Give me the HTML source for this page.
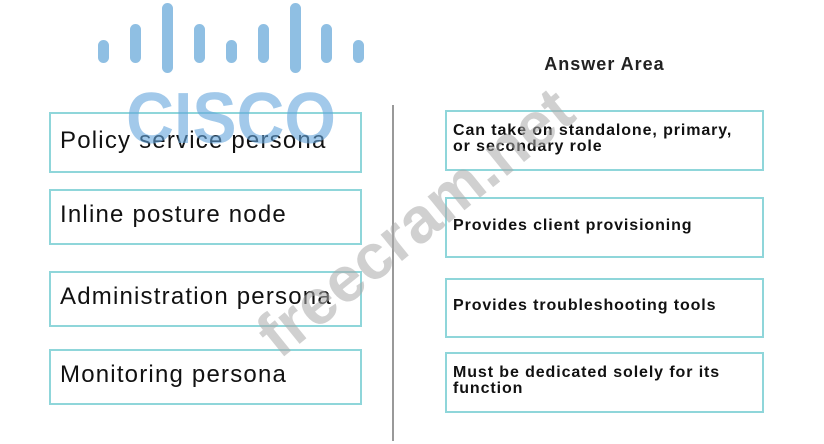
<!DOCTYPE html>
<html><head><style>
body{margin:0;width:824px;height:444px;background:#fff;position:relative;overflow:hidden;font-family:"Liberation Sans",sans-serif}
.b{position:absolute;border:2px solid #8fd6da;box-sizing:border-box}
.l{left:49px;width:313px;font-size:24px;letter-spacing:1.2px;color:#111;padding-left:9px;display:flex;align-items:center;padding-bottom:4px}
.r{left:445px;width:319px;font-size:16px;letter-spacing:0.9px;font-weight:bold;color:#111;padding-left:6px;line-height:16px;display:flex;align-items:center;padding-bottom:4px}
.bar{position:absolute;width:11px;border-radius:6px;background:#8fbfe3}
</style></head><body>
<div class="bar" style="left:98px;top:40px;height:23px"></div>
<div class="bar" style="left:130px;top:24px;height:39px"></div>
<div class="bar" style="left:162px;top:3px;height:70px"></div>
<div class="bar" style="left:194px;top:24px;height:39px"></div>
<div class="bar" style="left:226px;top:40px;height:23px"></div>
<div class="bar" style="left:258px;top:24px;height:39px"></div>
<div class="bar" style="left:290px;top:3px;height:70px"></div>
<div class="bar" style="left:321px;top:24px;height:39px"></div>
<div class="bar" style="left:353px;top:40px;height:23px"></div>

<div class="b l" style="top:112px;height:61px">Policy service persona</div>
<div class="b l" style="top:189px;height:56px">Inline posture node</div>
<div class="b l" style="top:271px;height:56px">Administration persona</div>
<div class="b l" style="top:349px;height:56px">Monitoring persona</div>

<div style="position:absolute;left:111px;top:83px;width:240px;text-align:center;font-size:72px;font-weight:bold;color:rgba(100,165,220,0.6);line-height:72px;transform:scaleX(0.92)">CISCO</div>

<div style="position:absolute;left:392px;top:105px;width:2px;height:336px;background:#999"></div>
<div style="position:absolute;left:445px;top:54px;width:319px;text-align:center;font-size:18px;letter-spacing:1px;font-weight:bold;color:#222">Answer Area</div>

<div class="b r" style="top:110px;height:61px">Can take on standalone, primary,<br>or secondary role</div>
<div class="b r" style="top:197px;height:61px">Provides client provisioning</div>
<div class="b r" style="top:278px;height:60px">Provides troubleshooting tools</div>
<div class="b r" style="top:352px;height:61px">Must be dedicated solely for its<br>function</div>

<div style="position:absolute;left:415px;top:222px;transform:translate(-50%,-50%) rotate(-39deg);font-size:64px;font-weight:bold;color:rgba(170,170,170,0.55);white-space:nowrap">freecram.net</div>
</body></html>
